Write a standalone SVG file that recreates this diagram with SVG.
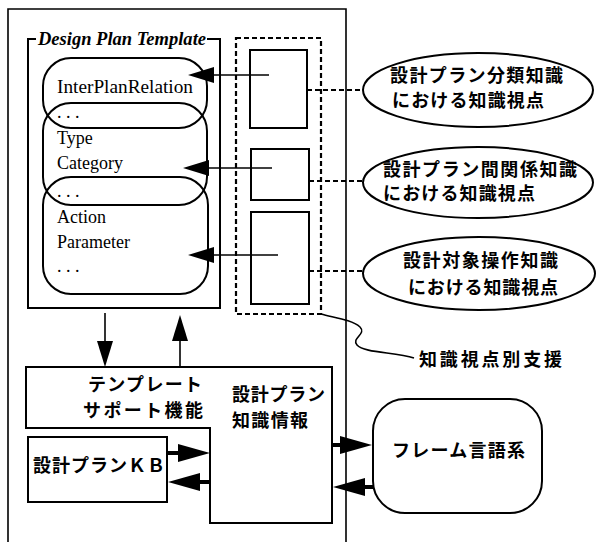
<svg xmlns="http://www.w3.org/2000/svg" width="596" height="542" viewBox="0 0 596 542">
<style>
.bx{fill:none;stroke:#000;stroke-width:2}
.wb{fill:#fff;stroke:#000;stroke-width:2}
.ln{fill:none;stroke:#000;stroke-width:1.6}
.tk{fill:none;stroke:#000;stroke-width:4}
.dot{fill:none;stroke:#000;stroke-width:2.2;stroke-dasharray:5 3}
.en{font-family:"Liberation Serif","Times New Roman",serif;font-size:18px;fill:#000}
.ti{font-family:"Liberation Serif","Times New Roman",serif;font-size:18px;font-weight:bold;font-style:italic;fill:#000}
.jp{font-family:"Noto Sans CJK JP","Noto Sans CJK SC",sans-serif;font-size:18px;font-weight:bold;fill:#000}
</style>
<defs>
<marker id="arr" markerUnits="userSpaceOnUse" markerWidth="26" markerHeight="16" refX="0" refY="8" orient="auto" overflow="visible"><path d="M0,0 L26,8 L0,16 Z" fill="#000"/></marker>
<marker id="arrB" markerUnits="userSpaceOnUse" markerWidth="32" markerHeight="18" refX="0" refY="9" orient="auto" overflow="visible"><path d="M0,0 L32,9 L0,18 Z" fill="#000"/></marker>
</defs>
<rect width="596" height="542" fill="#fff"/>

<g id="outer"><path class="ln" d="M8,542 V9 H346 V542"/></g>

<g id="template">
<path class="bx" d="M36,39 H28 V308 H220 V39 H207"/>
<text class="ti" x="38" y="45" textLength="168" lengthAdjust="spacingAndGlyphs">Design Plan Template</text>
</g>

<g id="interplan">
<rect class="bx" x="43" y="58" width="164" height="70" rx="28" ry="28"/>
<text class="en" x="57" y="93" textLength="136" lengthAdjust="spacingAndGlyphs">InterPlanRelation</text>
<text class="en" x="57" y="118">. . .</text>
</g>
<g id="typecat">
<rect class="bx" x="43" y="103" width="164" height="102" rx="28" ry="28"/>
<text class="en" x="57" y="144">Type</text>
<text class="en" x="57" y="169">Category</text>
<text class="en" x="57" y="197">. . .</text>
</g>
<g id="action">
<rect class="bx" x="43" y="177" width="165" height="117" rx="28" ry="28"/>
<text class="en" x="57" y="223">Action</text>
<text class="en" x="57" y="248">Parameter</text>
<text class="en" x="57" y="272">. . .</text>
</g>

<g id="viewpoints">
<rect class="dot" x="236" y="38" width="85" height="276"/>
<rect class="bx" x="250" y="50" width="57" height="78"/>
<rect class="bx" x="251" y="149" width="58" height="51"/>
<rect class="bx" x="251" y="212" width="58" height="92"/>
</g>

<g id="ellipse1">
<ellipse class="bx" cx="478" cy="90" rx="115" ry="37"/>
<text class="jp" x="390" y="82" textLength="173" lengthAdjust="spacing">設計プラン分類知識</text>
<text class="jp" x="392" y="107" textLength="152" lengthAdjust="spacing">における知識視点</text>
</g>
<g id="ellipse2">
<ellipse class="bx" cx="478" cy="182.5" rx="115" ry="35.5"/>
<text class="jp" x="383" y="176" textLength="194" lengthAdjust="spacing">設計プラン間関係知識</text>
<text class="jp" x="383" y="200" textLength="152" lengthAdjust="spacing">における知識視点</text>
</g>
<g id="ellipse3">
<ellipse class="bx" cx="479" cy="273.5" rx="116" ry="36.5"/>
<text class="jp" x="403" y="267" textLength="155" lengthAdjust="spacing">設計対象操作知識</text>
<text class="jp" x="408" y="294" textLength="150" lengthAdjust="spacing">における知識視点</text>
</g>

<g id="support-label">
<text class="jp" x="419" y="366" textLength="143" lengthAdjust="spacing">知識視点別支援</text>
</g>

<g id="template-support">
<path class="wb" d="M26,367 H332 V523 H210 V428 H26 Z"/>
<text class="jp" x="88" y="391" textLength="114" lengthAdjust="spacing">テンプレート</text>
<text class="jp" x="83" y="417" textLength="120" lengthAdjust="spacing">サポート機能</text>
<text class="jp" x="232" y="401" textLength="93" lengthAdjust="spacing">設計プラン</text>
<text class="jp" x="232" y="427" textLength="76" lengthAdjust="spacing">知識情報</text>
</g>

<g id="kb">
<rect class="wb" x="28" y="437" width="139" height="65"/>
<text class="jp" x="33" y="472" textLength="132" lengthAdjust="spacing">設計プランＫＢ</text>
</g>

<g id="frame">
<rect class="bx" x="373" y="399" width="169" height="114" rx="32" ry="32"/>
<text class="jp" x="392" y="457" textLength="133" lengthAdjust="spacing">フレーム言語系</text>
</g>

<g id="connectors">
<line class="ln" x1="269" y1="75" x2="214" y2="75" marker-end="url(#arr)"/>
<line class="ln" x1="272" y1="168" x2="209" y2="168" marker-end="url(#arr)"/>
<line class="ln" x1="278" y1="255" x2="214" y2="255" marker-end="url(#arr)"/>
<line class="dot" x1="307" y1="90" x2="362" y2="90"/>
<line class="dot" x1="309" y1="181" x2="363" y2="181"/>
<line class="dot" x1="309" y1="271" x2="363" y2="271"/>
<path class="ln" d="M321,314 C336,318 352,320 360,327 C367,334 351,338 357,345 C364,353 395,352 414,358"/>
<line class="ln" x1="105" y1="313" x2="105" y2="341" marker-end="url(#arr)"/>
<line class="ln" x1="180" y1="367" x2="180" y2="341" marker-end="url(#arr)"/>
<line class="tk" x1="166" y1="453" x2="178" y2="453" marker-end="url(#arrB)"/>
<line class="tk" x1="210" y1="482" x2="200" y2="482" marker-end="url(#arrB)"/>
<line class="tk" x1="332" y1="445" x2="340" y2="445" marker-end="url(#arrB)"/>
<line class="tk" x1="373" y1="487" x2="365" y2="487" marker-end="url(#arrB)"/>
</g>
</svg>
